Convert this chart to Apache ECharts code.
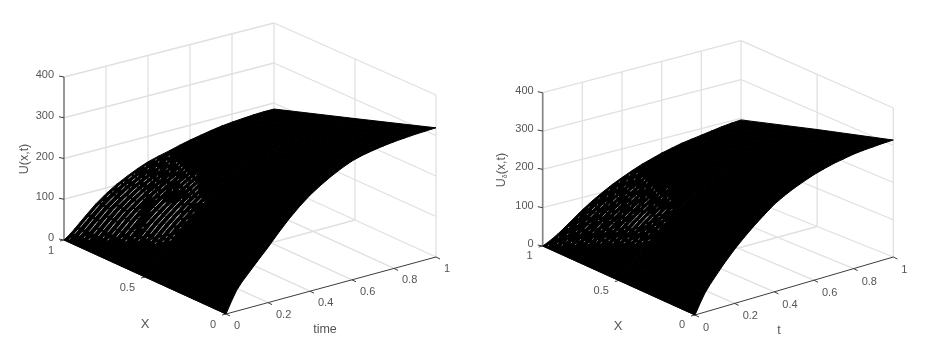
<!DOCTYPE html>
<html>
<head>
<meta charset="utf-8">
<style>html,body{margin:0;padding:0;background:#fff}#c{width:939px;height:347px}</style>
<script src="https://cdn.jsdelivr.net/npm/echarts@6/dist/echarts.min.js"></script>
</head>
<body>
<div id="c"></div>
<script>
// ---- tick labels ----
const xTicks = [0, 0.5, 1];
const tTicks = [0, 0.2, 0.4, 0.6, 0.8, 1];
const uTicks = [0, 100, 200, 300, 400];

// ---- surface samples ----
const xGrid = [0, 0.5, 1];
const tGrid = [0, 0.025, 0.05, 0.075, 0.1, 0.15, 0.2, 0.25, 0.3, 0.35, 0.4, 0.45, 0.5, 0.55, 0.6, 0.65, 0.7, 0.75, 0.8, 0.85, 0.9, 0.95, 1];
const surfaceExact = [
  [0, 27, 51, 68, 82, 110, 137, 166, 193, 217, 238, 255, 270, 283, 294, 301, 306, 310, 313, 315, 317, 318, 319],
  [0, 18, 36, 50, 63, 89, 112, 134, 154, 172, 188, 200, 210, 220, 229, 235, 240, 244, 247, 249, 250, 251, 252],
  [0, 9, 20, 32, 44, 67, 86, 102, 115, 127, 137, 144, 150, 157, 163, 168, 173, 177, 180, 182, 184, 185, 185]
];
const surfaceDelta = [
  [0, 26, 50, 68, 84, 115, 143, 168, 191, 212, 232, 247, 260, 271, 281, 289, 296, 301, 306, 309, 311, 313, 314],
  [0, 16, 32, 45, 57, 82, 106, 127, 146, 163, 179, 192, 204, 214, 222, 230, 236, 241, 245, 248, 251, 253, 255],
  [0, 6, 13, 21, 30, 49, 68, 85, 100, 114, 126, 137, 147, 155, 163, 169, 175, 179, 183, 187, 191, 194, 196]
];
// mesh gaps seen in the picture: one row per x, one column per t
const gapX0 = 0.98, gapXStep = -0.03, gapT0 = 0.01, gapTStep = 0.026, gapShrink = 0.6;
const gapsExact = [
  ".-=-=-.-.-.-. . .   ",
  " -=-=-=-.-.-. . . . ",
  " .=-=-=-=-.-.. . .  ",
  " .-=-=-=-=-.-. . .  ",
  "  -=-=-=-=-.-.. . . ",
  "  .=-=-=-=-. .. . . ",
  "  .-=-=-=-.-.. . .. ",
  "   -=-=-.  -.-.-. . ",
  "   .-=-.   .-.  . . ",
  "   .-.   -=-  . -.. ",
  "    . .-=-=-   .-...",
  "    .-=-=-=-.   .-. ",
  "     .=-=-=-=.. .-. ",
  "     .-=-=-=-.-..-  ",
  "     ..-=-=-.-.-..  ",
  "      ..-.-.-.. -.  ",
  "       .. . . .  .  "
];
const gapsDelta = [
  ". . . . . . . . .   ",
  " . . . .-. . . . .  ",
  " .. . .-.-. . . .   ",
  "  . .-. . .-. .  .  ",
  "  .. . .-. . .-. .  ",
  "   . .-. .-. . . .  ",
  "   .. . .-. .-. .   ",
  "    . .-. . . .  .  ",
  "    .. . .-.-. . .  ",
  "     . .-. . .-. .  ",
  "     .. .-=-.-.  . .",
  "      . .=-=-. . .  ",
  "      .. .-=-. .  . ",
  "       . . .-.-.  . ",
  "       .. . . .-.   ",
  "        . . . .  .  ",
  "         .  . .     "
];

// ---- frame of each 3D box on the page ----
const frames = [
  { floor: { c00: [226, 314], c10: [64, 240], c01: [436, 257], c11: [274, 183] },
    top:   { c00: [226, 153], c10: [64, 77],  c01: [436, 95],  c11: [274, 23] },
    surface: surfaceExact, gaps: gapsExact, gapColor: "#b4b4b4",
    uTitle: "U(x,t)", uTitleAt: [25, 159], xTitleAt: [145, 324], tTitle: "time", tTitleAt: [325, 330],
    xOff: [-10, 11], tOff: [8, 12], uOff: [-10, -2] },
  { floor: { c00: [695, 315], c10: [542.7, 246], c01: [893.3, 257], c11: [741, 196] },
    top:   { c00: [695, 163], c10: [542.7, 92.7], c01: [893.3, 108], c11: [741, 40.7] },
    surface: surfaceDelta, gaps: gapsDelta, gapColor: "#9c9c9c",
    uTitle: "{a|U}{b|\u03b4}{a|(x,t)}", uTitleAt: [502, 170], xTitleAt: [618, 326], tTitle: "t", tTitleAt: [779, 331],
    xOff: [-10, 10], tOff: [8, 13], uOff: [-9, -2] }
];

function project(f, x, t, u) {
  const w = { c00: (1 - x) * (1 - t), c10: x * (1 - t), c01: (1 - x) * t, c11: x * t };
  let bx = 0, by = 0, tx = 0, ty = 0;
  for (const k in w) {
    bx += w[k] * f.floor[k][0]; by += w[k] * f.floor[k][1];
    tx += w[k] * f.top[k][0];   ty += w[k] * f.top[k][1];
  }
  const s = u / 400;
  return [bx + (tx - bx) * s, by + (ty - by) * s];
}
function sampleSurface(s, x, t) {
  let i = 0, j = 0;
  while (i < xGrid.length - 2 && x > xGrid[i + 1]) i++;
  while (j < tGrid.length - 2 && t > tGrid[j + 1]) j++;
  const a = (x - xGrid[i]) / (xGrid[i + 1] - xGrid[i]);
  const b = (t - tGrid[j]) / (tGrid[j + 1] - tGrid[j]);
  return (1 - a) * (1 - b) * s[i][j] + a * (1 - b) * s[i + 1][j] + (1 - a) * b * s[i][j + 1] + a * b * s[i + 1][j + 1];
}

const GRID = { stroke: "#e0e0e0", lineWidth: 1.3 };
const AXIS_Z = { stroke: "#858585", lineWidth: 1.7 };
const AXIS = { stroke: "#3c3c3c", lineWidth: 1 };
const TEXT = "#555555";
const FONT = '"Liberation Sans", Arial, sans-serif';

function boxSeries(f) {
  const segs = [];
  uTicks.forEach(u => {
    segs.push([1, 0, u, 1, 1, u, GRID]);
    segs.push([1, 1, u, 0, 1, u, GRID]);
  });
  tTicks.slice(1).forEach(t => {
    segs.push([1, t, 0, 1, t, 400, GRID]);
    if (t < 1) segs.push([0, t, 0, 1, t, 0, GRID]);
  });
  xTicks.slice(0, 2).forEach(x => {
    segs.push([x, 1, 0, x, 1, 400, GRID]);
    if (x > 0) segs.push([x, 0, 0, x, 1, 0, GRID]);
  });
  return {
    type: "custom", silent: true, z: 1,
    data: segs.map((_, i) => [i]),
    renderItem(p, api) {
      const s = segs[p.dataIndex];
      const a = api.coord(project(f, s[0], s[1], s[2]));
      const b = api.coord(project(f, s[3], s[4], s[5]));
      return { type: "line", shape: { x1: a[0], y1: a[1], x2: b[0], y2: b[1] }, style: s[6] };
    }
  };
}
function axisSeries(f) {
  const segs = [
    { a: [1, 0, 0], b: [1, 0, 400], st: AXIS_Z },
    { a: [0, 0, 0], b: [1, 0, 0], st: AXIS },
    { a: [0, 0, 0], b: [0, 1, 0], st: AXIS }
  ];
  uTicks.forEach(u => segs.push({ a: [1, 0, u], d: [-5, -1], st: AXIS }));
  tTicks.forEach(t => segs.push({ a: [0, t, 0], d: [4, 2], st: AXIS }));
  xTicks.forEach(x => segs.push({ a: [x, 0, 0], d: [-4, 1], st: AXIS }));
  return {
    type: "custom", silent: true, z: 3,
    data: segs.map((_, i) => [i]),
    renderItem(p, api) {
      const s = segs[p.dataIndex];
      const a = project(f, s.a[0], s.a[1], s.a[2]);
      const b = s.b ? project(f, s.b[0], s.b[1], s.b[2]) : [a[0] + s.d[0], a[1] + s.d[1]];
      const A = api.coord(a), B = api.coord(b);
      return { type: "line", shape: { x1: A[0], y1: A[1], x2: B[0], y2: B[1] }, style: s.st };
    }
  };
}
function surfaceSeries(f) {
  const cells = [];
  for (let i = 0; i < xGrid.length - 1; i++)
    for (let j = 0; j < tGrid.length - 1; j++) cells.push([i, j]);
  return {
    type: "custom", silent: true, z: 4,
    data: cells.map((_, i) => [i]),
    renderItem(p, api) {
      const c = cells[p.dataIndex], i = c[0], j = c[1];
      const pts = [[i, j], [i + 1, j], [i + 1, j + 1], [i, j + 1]].map(q =>
        api.coord(project(f, xGrid[q[0]], tGrid[q[1]], f.surface[q[0]][q[1]])));
      return { type: "polygon", shape: { points: pts }, style: { fill: "#000", stroke: "#000", lineWidth: 1 } };
    }
  };
}
function gapSeries(f) {
  const dashLen = { ".": 0.006, "-": 0.016, "=": 0.03 };
  const dashes = [];
  f.gaps.forEach((row, r) => {
    const x = gapX0 + gapXStep * r;
    const step = gapTStep * (gapShrink + (1 - gapShrink) * (x - 0.5) / 0.5);
    for (let c = 0; c < row.length; c++) {
      if (row[c] !== " ") dashes.push([x, gapT0 + step * c, dashLen[row[c]]]);
    }
  });
  return {
    type: "custom", silent: true, z: 5,
    data: dashes.map((_, i) => [i]),
    renderItem(p, api) {
      const d = dashes[p.dataIndex];
      const a = api.coord(project(f, d[0], d[1], sampleSurface(f.surface, d[0], d[1])));
      const b = api.coord(project(f, d[0], d[1] + d[2], sampleSurface(f.surface, d[0], d[1] + d[2])));
      return { type: "line", shape: { x1: a[0], y1: a[1], x2: b[0], y2: b[1] }, style: { stroke: f.gapColor, lineWidth: 0.9 } };
    }
  };
}
function textSeries(f) {
  const items = [];
  xTicks.forEach(x => items.push({ at: project(f, x, 0, 0), off: f.xOff, text: String(x), align: "right" }));
  tTicks.forEach(t => items.push({ at: project(f, 0, t, 0), off: f.tOff, text: String(t), align: "left" }));
  uTicks.forEach(u => items.push({ at: project(f, 1, 0, u), off: f.uOff, text: String(u), align: "right" }));
  items.push({ at: f.xTitleAt, off: [0, 0], text: "X", align: "center", size: 13 });
  items.push({ at: f.tTitleAt, off: [0, 0], text: f.tTitle, align: "center", size: 12.5 });
  items.push({ at: f.uTitleAt, off: [0, 0], text: f.uTitle, align: "center", size: 12.5, rot: Math.PI / 2 });
  return {
    type: "custom", silent: true, z: 6,
    data: items.map((_, i) => [i]),
    renderItem(p, api) {
      const it = items[p.dataIndex];
      const c = api.coord(it.at);
      return {
        type: "text", x: c[0] + it.off[0], y: c[1] + it.off[1], rotation: it.rot || 0,
        style: {
          text: it.text, align: it.align, verticalAlign: "middle",
          fill: TEXT, font: (it.size || 11) + "px " + FONT,
          rich: {
            a: { fill: TEXT, font: (it.size || 11) + "px " + FONT },
            b: { fill: TEXT, font: "7px " + FONT, verticalAlign: "bottom", padding: [6, 0, 0, 0] }
          }
        }
      };
    }
  };
}

const series = [];
frames.forEach(f => series.push(boxSeries(f), axisSeries(f), surfaceSeries(f), gapSeries(f), textSeries(f)));

const chart = echarts.init(document.getElementById("c"), null, { renderer: "canvas" });
chart.setOption({
  animation: false,
  backgroundColor: "#ffffff",
  grid: { left: 0, right: 0, top: 0, bottom: 0 },
  xAxis: { type: "value", min: 0, max: 939, show: false },
  yAxis: { type: "value", min: 0, max: 347, inverse: true, show: false },
  series: series
});
</script>
</body>
</html>
